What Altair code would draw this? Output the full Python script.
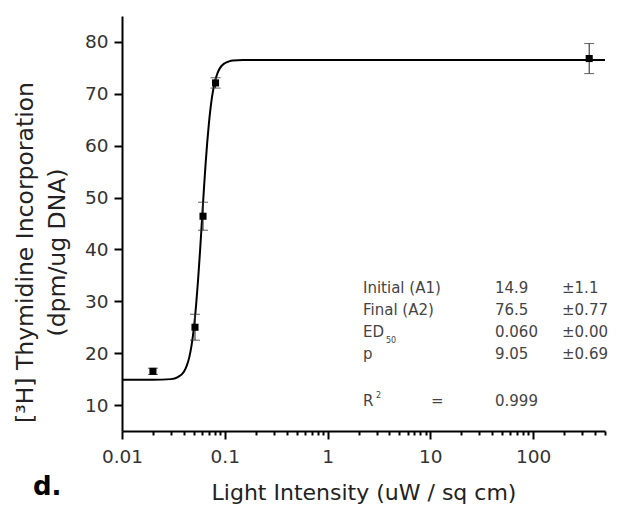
import altair as alt
import pandas as pd

# ---- data ----
pt_x = [0.020, 0.0513, 0.0614, 0.0813, 351.0]
pt_y = [16.5, 25.0, 46.4, 72.1, 76.8]
pt_err = [0.6, 2.5, 2.7, 1.0, 2.9]

curve_x = [0.01, 0.02, 0.03, 0.035, 0.04, 0.0425, 0.045, 0.0475, 0.05, 0.0525,
           0.055, 0.0575, 0.06, 0.0625, 0.065, 0.0675, 0.07, 0.075, 0.08, 0.085,
           0.09, 0.1, 0.11, 0.12, 0.15, 0.2, 500]
curve_y = [14.9, 14.9, 15.0, 15.4, 16.4, 17.5, 19.1, 21.5, 24.8, 29.1,
           34.2, 39.8, 45.7, 51.3, 56.4, 60.7, 64.2, 69.3, 72.3, 74.0,
           75.0, 75.9, 76.25, 76.4, 76.5, 76.5, 76.5]

tbl_labels = ["Initial (A1)", "Final (A2)", "ED", "p"]
tbl_values = ["14.9", "76.5", "0.060", "9.05"]
tbl_errs = ["\u00b11.1", "\u00b10.77", "\u00b10.00", "\u00b10.69"]
r2_value = "0.999"

x_ticks = []
for e in [-2, -1, 0, 1]:
    for m in range(1, 10):
        x_ticks.append(round(m * 10 ** e, 6))
x_ticks += [100, 200, 300, 400, 500]
y_ticks = list(range(10, 90, 5))

FONT = "DejaVu Sans"

pts = pd.DataFrame({"x": pt_x, "y": pt_y,
                    "lo": [a - b for a, b in zip(pt_y, pt_err)],
                    "hi": [a + b for a, b in zip(pt_y, pt_err)]})
curve = pd.DataFrame({"x": curve_x, "y": curve_y})

xscale = alt.Scale(type="log", domain=[0.01, 500], nice=False)
yscale = alt.Scale(domain=[5, 85], nice=False, zero=False)

is_decade = "abs(log(datum.value)/LN10 - round(log(datum.value)/LN10)) < 0.001"

xaxis = alt.Axis(values=x_ticks, format="~g",
                 labelExpr=f"{is_decade} ? datum.label : ''",
                 tickSize={"condition": {"test": is_decade, "value": 8}, "value": 4},
                 tickWidth=2, tickColor="black", domainWidth=2, domainColor="black",
                 labelFont=FONT, labelFontSize=18.5, labelColor="#333",
                 labelPadding=8, labelFlush=False, labelOverlap=False,
                 title="Light Intensity (uW / sq cm)", titleFont=FONT, titleFontSize=22,
                 titleFontWeight="normal", titleColor="#222", titlePadding=17, grid=False)

yaxis = alt.Axis(values=y_ticks,
                 labelExpr="datum.value % 10 == 0 ? datum.label : ''",
                 tickSize={"condition": {"test": "datum.value % 10 == 0", "value": 8}, "value": 5},
                 tickWidth=2, tickColor="black", domainWidth=2, domainColor="black",
                 labelFont=FONT, labelFontSize=18.5, labelColor="#333",
                 labelPadding=6, labelOverlap=False,
                 title=["[\u00b3H] Thymidine Incorporation", "(dpm/ug DNA)"],
                 titleFont=FONT, titleFontSize=23.5, titleFontWeight="normal",
                 titleColor="#222", titleLineHeight=32, titleX=-90, titleY=236,
                 titleBaseline="alphabetic", grid=False)

line = alt.Chart(curve).mark_line(color="black", strokeWidth=2, interpolate="monotone").encode(
    x=alt.X("x:Q", scale=xscale, axis=xaxis),
    y=alt.Y("y:Q", scale=yscale, axis=yaxis),
)
bars = alt.Chart(pts).mark_rule(color="#333", strokeWidth=1.1).encode(
    x="x:Q", y="lo:Q", y2="hi:Q")
cap_lo = alt.Chart(pts).mark_tick(color="#333", thickness=1.1, size=10, orient="horizontal").encode(
    x="x:Q", y="lo:Q")
cap_hi = alt.Chart(pts).mark_tick(color="#333", thickness=1.1, size=10, orient="horizontal").encode(
    x="x:Q", y="hi:Q")
squares = alt.Chart(pts).mark_square(color="black", size=50, opacity=1).encode(
    x="x:Q", y="y:Q")

one = alt.Data(values=[{}])

def txt(s, x, y, size=15, color="#444", weight="normal", align="left"):
    return alt.Chart(one).mark_text(text=s, font=FONT, fontSize=size, color=color,
                                    fontWeight=weight, align=align,
                                    baseline="alphabetic").encode(
        x=alt.value(x), y=alt.value(y))

row_y = [277, 299, 321, 343]
texts = []
for i in range(4):
    texts.append(txt(tbl_labels[i], 241, row_y[i]))
    texts.append(txt(tbl_values[i], 373, row_y[i]))
    texts.append(txt(tbl_errs[i], 440, row_y[i]))
texts.append(txt("50", 264, 327, size=8))
texts.append(txt("R", 241, 390))
texts.append(txt("2", 254, 382, size=8))
texts.append(txt("=", 309, 390))
texts.append(txt(r2_value, 373, 390))
texts.append(txt("d.", -89, 479, size=26, color="black", weight="bold"))

chart = alt.layer(line, bars, cap_lo, cap_hi, squares, *texts).properties(
    width=483, height=415,
    autosize=alt.AutoSizeParams(type="none"),
    padding={"left": 114, "top": 8, "right": 4, "bottom": 74},
).configure_view(stroke=None)

chart.save("out.html", embed_options={"renderer": "svg", "actions": False})
